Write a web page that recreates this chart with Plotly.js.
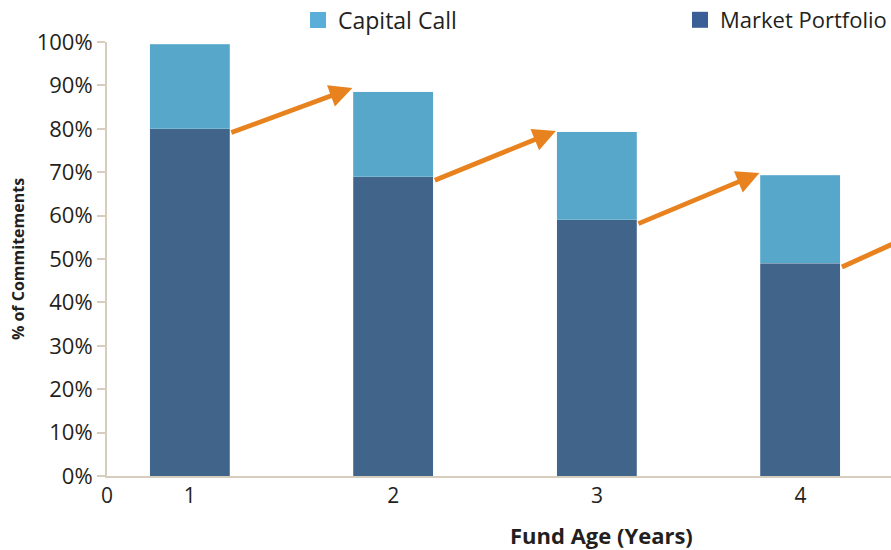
<!DOCTYPE html>
<html>
<head>
<meta charset="utf-8">
<script src="https://cdn.plot.ly/plotly-3.0.1.min.js"></script>
<style>
  html, body { margin: 0; padding: 0; background: #fff; overflow: hidden; }
  #chart { width: 891px; height: 550px; }
</style>
</head>
<body>
<div id="chart"></div>
<script>
// Fund age in years
const fundAge = [1, 2, 3, 4];
// Share of commitments held in the market portfolio (%)
const marketPortfolio = [80, 69, 59, 49];
// Share of commitments still to be called (%)
const capitalCall = [19.5, 19.5, 20.3, 20.3];
// Level the market portfolio grows to by the following year (%)
const grownPortfolio = [89.4, 79.5, 69.8, 60.8];

const xTickText = ['0', '1', '2', '3', '4'];
const yTicks = [0, 10, 20, 30, 40, 50, 60, 70, 80, 90, 100];

const BAR_W = 0.393;
const X_MIN = 0.593, X_MAX = 4.445;

const DARK = '#41648a';
const LIGHT = '#57a7cb';
const ORANGE = '#e8821e';
const AXIS = '#d6cdbd';
const INK = '#231f20';
const FONT = '"Open Sans", Lato, sans-serif';

const barLine = { color: 'rgba(225,236,244,0.5)', width: 0.5 };

const traces = [
  {
    type: 'bar', name: 'Market Portfolio', x: fundAge, y: marketPortfolio,
    width: BAR_W, marker: { color: DARK, line: barLine },
    showlegend: false, hoverinfo: 'skip'
  },
  {
    type: 'bar', name: 'Capital Call', x: fundAge, y: capitalCall,
    width: BAR_W, marker: { color: LIGHT, line: barLine },
    showlegend: false, hoverinfo: 'skip'
  },
  // legend entries with larger square swatches, one per legend box
  {
    type: 'scatter', mode: 'markers', name: 'Capital Call', x: [null], y: [null],
    marker: { symbol: 'square', size: 16, color: '#5aaed8' }, legend: 'legend'
  },
  {
    type: 'scatter', mode: 'markers', name: 'Market Portfolio', x: [null], y: [null],
    marker: { symbol: 'square', size: 16, color: '#3a5e96' }, legend: 'legend2'
  }
];

// growth arrows: from the top of each market-portfolio bar toward the next year
const arrows = fundAge.map((age, i) => ({
  xref: 'x', yref: 'y', axref: 'x', ayref: 'y',
  x: age + 1 - BAR_W / 2 - 0.005, y: grownPortfolio[i],
  ax: age + BAR_W / 2, ay: marketPortfolio[i] - 1,
  text: '', showarrow: true, arrowhead: 2, arrowsize: 0.95,
  arrowwidth: 4.8, arrowcolor: ORANGE, standoff: 0
}));

const plotW = 891 - 107, plotH = 550 - 42 - 74;
const px2x = p => (p - 107) / plotW;
const px2y = p => 1 + (42 - p) / plotH;

const legendStyle = {
  orientation: 'h', xanchor: 'left', yanchor: 'middle',
  bgcolor: 'rgba(0,0,0,0)', itemclick: false, itemdoubleclick: false
};

const layout = {
  width: 891, height: 550,
  margin: { l: 107, r: 0, t: 42, b: 74, pad: 0, autoexpand: false },
  paper_bgcolor: '#fff', plot_bgcolor: '#fff',
  font: { family: FONT, color: INK, size: 21 },
  barmode: 'stack',
  showlegend: true,
  legend: Object.assign({}, legendStyle, {
    x: px2x(298), y: px2y(20), font: { family: FONT, size: 23, color: INK }
  }),
  legend2: Object.assign({}, legendStyle, {
    x: px2x(680), y: px2y(20), font: { family: FONT, size: 22, color: INK }
  }),
  xaxis: {
    range: [X_MIN, X_MAX], tickmode: 'array',
    tickvals: [X_MIN].concat(fundAge), ticktext: xTickText,
    showgrid: false, zeroline: false, showline: true,
    linecolor: AXIS, linewidth: 2, ticks: '',
    tickfont: { family: FONT, size: 21, color: INK },
    fixedrange: true
  },
  yaxis: {
    range: [0, 100], tickmode: 'array', tickvals: yTicks,
    ticktext: yTicks.map(v => v + '%'),
    showgrid: false, zeroline: false, showline: true,
    linecolor: AXIS, linewidth: 2, ticks: 'outside', ticklen: 8,
    tickcolor: AXIS, tickwidth: 2,
    tickfont: { family: FONT, size: 22, color: INK },
    title: { text: '<b>% of Commitements</b>', font: { family: FONT, size: 16, color: INK }, standoff: 8 },
    fixedrange: true
  },
  annotations: arrows.concat([
    {
      xref: 'paper', yref: 'paper', x: px2x(601), y: px2y(535),
      xanchor: 'center', yanchor: 'middle', showarrow: false,
      text: '<b>Fund Age (Years)</b>', font: { family: FONT, size: 22, color: INK }
    }
  ])
};

Plotly.newPlot('chart', traces, layout, { displayModeBar: false, staticPlot: true });
</script>
</body>
</html>
